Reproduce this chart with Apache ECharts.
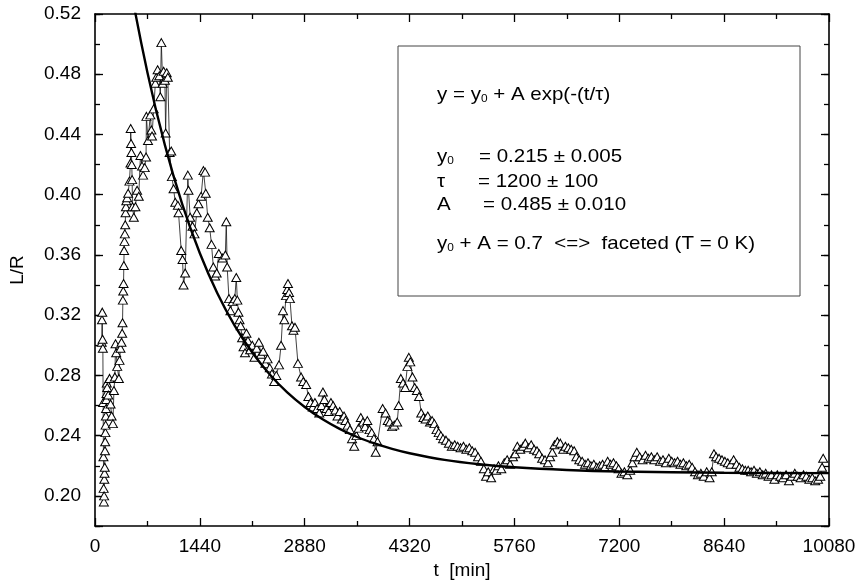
<!DOCTYPE html>
<html>
<head>
<meta charset="utf-8">
<script src="https://cdn.jsdelivr.net/npm/echarts@6.0.0/dist/echarts.min.js"></script>
<style>
  html, body { margin: 0; padding: 0; background: #fff; }
  #chart { width: 860px; height: 585px; }
</style>
</head>
<body>
<div id="chart"></div>
<script>
// measured L/R values, t in minutes
var tMin = [
  92, 96, 100, 104, 108, 112, 116, 119, 122, 125, 128, 131, 134, 137, 140, 143, 146, 149, 152, 155, 158, 162,
  168, 182, 200, 214, 228, 246, 260, 273, 282, 291, 305, 328, 337, 350, 364, 373, 378, 383, 388, 392, 396, 400,
  405, 410, 415, 420, 425, 430, 442, 455, 473, 487, 490, 495, 500, 505, 510, 515, 533, 555, 578, 601, 624, 646,
  660, 683, 701, 706, 728, 760, 774, 783, 806, 829, 842, 860, 883, 897, 911, 929, 942, 960, 970, 985, 1000, 1025,
  1047, 1056, 1079, 1102, 1138, 1147, 1184, 1202, 1216, 1238, 1275, 1284, 1307, 1339, 1366, 1398, 1421, 1457,
  1489, 1512, 1521, 1548, 1575, 1600, 1625, 1650, 1671, 1700, 1750, 1790, 1803, 1815, 1840, 1860, 1890, 1920,
  1940, 1955, 1970, 1985, 2000, 2020, 2040, 2060, 2080, 2100, 2130, 2160, 2190, 2220, 2250, 2280, 2310, 2340,
  2370, 2400, 2430, 2460, 2490, 2527, 2555, 2582, 2600, 2623, 2640, 2650, 2665, 2677, 2705, 2725, 2746, 2787,
  2830, 2860, 2900, 2930, 2960, 2990, 3020, 3050, 3080, 3110, 3130, 3150, 3180, 3210, 3240, 3270, 3300, 3330,
  3360, 3390, 3420, 3440, 3470, 3500, 3530, 3560, 3590, 3620, 3650, 3680, 3710, 3740, 3770, 3800, 3830, 3855,
  3880, 3950, 3990, 4020, 4050, 4080, 4110, 4150, 4170, 4200, 4230, 4260, 4290, 4310, 4330, 4360, 4390, 4420,
  4450, 4480, 4510, 4540, 4570, 4600, 4630, 4660, 4690, 4720, 4750, 4780, 4820, 4860, 4900, 4940, 4980, 5020,
  5060, 5100, 5140, 5180, 5220, 5260, 5300, 5340, 5370, 5400, 5440, 5480, 5510, 5540, 5580, 5620, 5660, 5700,
  5740, 5770, 5800, 5840, 5880, 5910, 5950, 5990, 6030, 6070, 6100, 6140, 6180, 6220, 6250, 6280, 6310, 6350,
  6390, 6430, 6460, 6500, 6540, 6580, 6610, 6650, 6690, 6730, 6770, 6810, 6850, 6890, 6930, 6970, 7000, 7040,
  7080, 7120, 7160, 7190, 7230, 7270, 7310, 7350, 7380, 7410, 7440, 7480, 7520, 7560, 7600, 7640, 7680, 7720,
  7760, 7800, 7840, 7880, 7920, 7960, 8000, 8040, 8080, 8120, 8160, 8200, 8240, 8280, 8320, 8360, 8400, 8440,
  8470, 8500, 8530, 8570, 8610, 8650, 8690, 8730, 8770, 8810, 8850, 8890, 8930, 8970, 9010, 9050, 9090, 9130,
  9170, 9210, 9250, 9290, 9330, 9370, 9410, 9450, 9490, 9530, 9570, 9610, 9650, 9690, 9730, 9770, 9810, 9850,
  9890, 9930, 9960, 9985, 10000
];
var lr = [
  0.302, 0.317, 0.322, 0.304, 0.298, 0.262, 0.226, 0.205, 0.196, 0.200, 0.211, 0.215, 0.219, 0.230, 0.236, 0.242, 0.247, 0.253, 0.258, 0.264, 0.268, 0.275,
  0.272, 0.267, 0.278, 0.261, 0.253, 0.248, 0.270, 0.279, 0.301, 0.295, 0.286, 0.278, 0.290, 0.298, 0.302, 0.308, 0.315, 0.330, 0.336, 0.341, 0.353, 0.363,
  0.369, 0.374, 0.380, 0.388, 0.392, 0.396, 0.398, 0.401, 0.409, 0.421, 0.444, 0.434, 0.428, 0.420, 0.410, 0.392, 0.385, 0.392, 0.403, 0.399, 0.426, 0.419,
  0.413, 0.418, 0.425, 0.452, 0.436, 0.453, 0.443, 0.439, 0.457, 0.474, 0.478, 0.483, 0.479, 0.465, 0.501, 0.474, 0.482, 0.476, 0.441, 0.481, 0.478, 0.428,
  0.429, 0.412, 0.404, 0.395, 0.393, 0.388, 0.363, 0.357, 0.340, 0.348, 0.413, 0.403, 0.385, 0.379, 0.374, 0.388, 0.394, 0.399,
  0.416, 0.415, 0.401, 0.385, 0.378, 0.367, 0.352, 0.346, 0.348, 0.361, 0.358, 0.360, 0.382, 0.352, 0.331, 0.323, 0.329, 0.331,
  0.345, 0.330, 0.322, 0.317, 0.313, 0.305, 0.299, 0.295, 0.308, 0.303, 0.297, 0.300, 0.292, 0.298, 0.302, 0.294, 0.296, 0.288,
  0.291, 0.285, 0.281, 0.276, 0.280, 0.287, 0.300, 0.323, 0.317, 0.333, 0.337, 0.341, 0.335, 0.331, 0.313, 0.310, 0.312, 0.288,
  0.279, 0.276, 0.274, 0.266, 0.262, 0.259, 0.262, 0.258, 0.255, 0.260, 0.269, 0.264, 0.258, 0.256, 0.262, 0.260, 0.257, 0.253,
  0.256, 0.251, 0.253, 0.250, 0.247, 0.244, 0.238, 0.233, 0.240, 0.245, 0.252, 0.249, 0.246, 0.250, 0.244, 0.242, 0.238, 0.229,
  0.236, 0.258, 0.255, 0.250, 0.249, 0.246, 0.247, 0.249, 0.260, 0.278, 0.275, 0.272, 0.286, 0.292, 0.289, 0.279, 0.272, 0.270,
  0.266, 0.255, 0.252, 0.251, 0.253, 0.249, 0.250, 0.248, 0.244, 0.242, 0.240, 0.238, 0.237, 0.235, 0.233, 0.234, 0.233, 0.232,
  0.233, 0.231, 0.232, 0.230, 0.229, 0.226, 0.223, 0.218, 0.213, 0.216, 0.212, 0.218, 0.217, 0.220, 0.218, 0.222, 0.224, 0.221,
  0.226, 0.228, 0.233, 0.231, 0.233, 0.235, 0.232, 0.234, 0.231, 0.230, 0.228, 0.225, 0.224, 0.222, 0.226, 0.229, 0.234, 0.236,
  0.235, 0.231, 0.233, 0.232, 0.231, 0.230, 0.226, 0.224, 0.223, 0.221, 0.222, 0.220, 0.221, 0.219, 0.220, 0.221, 0.219, 0.223,
  0.221, 0.222, 0.220, 0.218, 0.215, 0.216, 0.214, 0.217, 0.222, 0.226, 0.229, 0.226, 0.224, 0.227, 0.225, 0.226, 0.224, 0.226,
  0.223, 0.224, 0.222, 0.225, 0.223, 0.222, 0.223, 0.221, 0.222, 0.220, 0.221, 0.219, 0.216, 0.214, 0.215, 0.213, 0.216, 0.212,
  0.216, 0.228, 0.226, 0.225, 0.224, 0.223, 0.222, 0.221, 0.224, 0.221, 0.219, 0.218, 0.217, 0.217, 0.216, 0.217, 0.215, 0.216,
  0.214, 0.215, 0.213, 0.214, 0.211, 0.214, 0.213, 0.212, 0.214, 0.210, 0.213, 0.215, 0.213, 0.212, 0.214, 0.213, 0.211, 0.212,
  0.210, 0.211, 0.213, 0.219, 0.225
];

// fitted curve
var fitT = [240, 480, 720, 960, 1200, 1440, 1680, 1920, 2160, 2400, 2640, 2880, 3120, 3360, 3600, 3840, 4080, 4320,
  4800, 5280, 5760, 6480, 7200, 8640, 10080];
var fitY = [0.6121, 0.5401, 0.4812, 0.4329, 0.3934, 0.3611, 0.3346, 0.3129, 0.2952, 0.2806, 0.2687, 0.2590, 0.2510,
  0.2445, 0.2391, 0.2348, 0.2312, 0.2283, 0.2239, 0.2210, 0.2190, 0.2172, 0.2162, 0.2154, 0.2151];

var FONT = '"Liberation Sans", Arial, sans-serif';

var chart = echarts.init(document.getElementById('chart'));

var points = [];
for (var i = 0; i < tMin.length; i++) points.push([tMin[i], lr[i]]);
var fit = [];
for (var j = 0; j < fitT.length; j++) fit.push([fitT[j], fitY[j]]);

var axLine = { show: true, onZero: false, lineStyle: { color: '#000', width: 1.6 } };
var tick = { show: true, inside: true, length: 8, lineStyle: { color: '#000', width: 1.3 } };
var shortTick = { show: true, inside: true, length: 5, lineStyle: { color: '#000', width: 1.3 } };

function yLabel(v) {
  var k = Math.round(v * 100);
  return k % 4 === 0 ? v.toFixed(2) : '';
}

function legendText(x, y, text) {
  return {
    type: 'text', x: x, y: y, scaleX: 1.08,
    style: {
      text: text, fill: '#000', font: '19px ' + FONT, verticalAlign: 'middle',
      rich: {
        m: { fontSize: 19, fontFamily: FONT, lineHeight: 22, verticalAlign: 'bottom' },
        s: { fontSize: 11, fontFamily: FONT, lineHeight: 11, verticalAlign: 'bottom' }
      }
    },
    z: 10
  };
}

var option = {
  animation: false,
  backgroundColor: '#fff',
  grid: { left: 91, right: 31, top: 14, bottom: 59, containLabel: false },
  xAxis: [
    {
      type: 'value', min: 0, max: 10080, interval: 1440, position: 'bottom',
      axisLine: axLine, axisTick: tick,
      minorTick: { show: true, splitNumber: 2, length: 5, lineStyle: { color: '#000', width: 1.3 } },
      axisLabel: { color: '#000', fontSize: 19, fontFamily: FONT, margin: 11, formatter: function (v) { return String(v); } },
      splitLine: { show: false },
      name: 't  [min]', nameLocation: 'middle', nameGap: 33,
      nameTextStyle: { color: '#000', fontSize: 19, fontFamily: FONT }
    },
    {
      type: 'value', min: 0, max: 10080, interval: 1440, position: 'top',
      axisLine: axLine, axisTick: tick,
      minorTick: { show: true, splitNumber: 2, length: 5, lineStyle: { color: '#000', width: 1.3 } },
      axisLabel: { show: false },
      splitLine: { show: false }
    }
  ],
  yAxis: [
    {
      type: 'value', min: 0.18, max: 0.52, interval: 0.02, position: 'left',
      axisLine: axLine, axisTick: shortTick,
      axisLabel: { color: '#000', fontSize: 19, fontFamily: FONT, margin: 14, formatter: yLabel },
      splitLine: { show: false },
      name: 'L/R', nameLocation: 'middle', nameGap: 68,
      nameTextStyle: { color: '#000', fontSize: 19, fontFamily: FONT }
    },
    {
      // major ticks every 0.04 counted down from 0.52 (reversed helper axis)
      type: 'value', inverse: true, min: 0, max: 0.34, interval: 0.04, position: 'left',
      axisLine: { show: false, onZero: false }, axisTick: tick,
      axisLabel: { show: false }, splitLine: { show: false }
    },
    {
      type: 'value', min: 0.18, max: 0.52, interval: 0.02, position: 'right',
      axisLine: axLine, axisTick: shortTick,
      axisLabel: { show: false }, splitLine: { show: false }
    },
    {
      type: 'value', inverse: true, min: 0, max: 0.34, interval: 0.04, position: 'right',
      axisLine: { show: false, onZero: false }, axisTick: tick,
      axisLabel: { show: false }, splitLine: { show: false }
    }
  ],
  series: [
    {
      name: 'L/R', type: 'line', xAxisIndex: 0, yAxisIndex: 0,
      data: points,
      showAllSymbol: true,
      symbol: 'triangle', symbolSize: [9, 8],
      itemStyle: { color: '#fff', borderColor: '#000', borderWidth: 1 },
      lineStyle: { color: '#111', width: 0.8 },
      z: 2
    },
    {
      name: 'fit', type: 'line', xAxisIndex: 0, yAxisIndex: 0,
      data: fit,
      showSymbol: false, smooth: 0.35,
      lineStyle: { color: '#000', width: 2.4 },
      z: 3
    }
  ],
  graphic: [
    {
      type: 'rect', shape: { x: 398, y: 46, width: 402, height: 250 },
      style: { fill: '#fff', stroke: '#444', lineWidth: 1 }, z: 9
    },
    legendText(437, 93, '{m|y = y}{s|0}{m| + A exp(-(t/τ)}'),
    legendText(437, 155, '{m|y}{s|0}'),
    legendText(479, 155, '{m|= 0.215 ± 0.005}'),
    legendText(437, 180, '{m|τ}'),
    legendText(478, 180, '{m|= 1200 ± 100}'),
    legendText(437, 203, '{m|A}'),
    legendText(483, 203, '{m|= 0.485 ± 0.010}'),
    legendText(437, 242, '{m|y}{s|0}{m| + A = 0.7  <=>  faceted (T = 0 K)}')
  ]
};

chart.setOption(option);
</script>
</body>
</html>
